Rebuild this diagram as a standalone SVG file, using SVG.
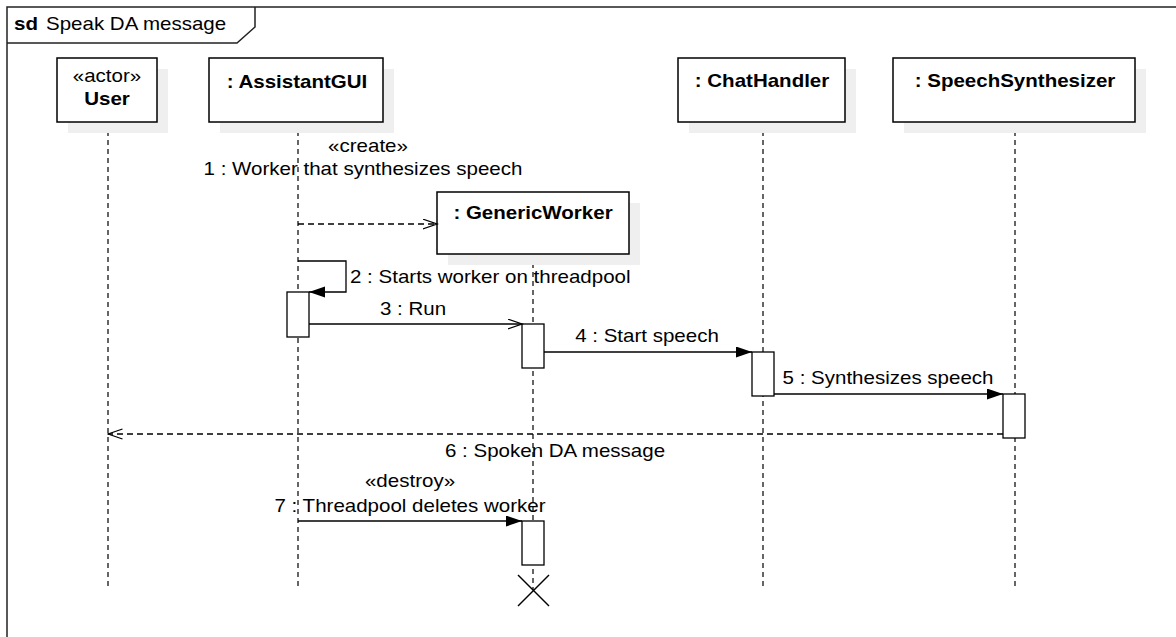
<svg xmlns="http://www.w3.org/2000/svg" width="1176" height="637" viewBox="0 0 1176 637">
<style>
text{font-family:"Liberation Sans",Arial,sans-serif;font-size:18px;fill:#000}
.b{font-weight:bold}
.box{fill:#fff;stroke:#000;stroke-width:1.5}
.sh{fill:#efefef;stroke:none}
.life{stroke:#000;stroke-width:1.2;stroke-dasharray:5,4;fill:none}
.act{fill:#fff;stroke:#000;stroke-width:1.3}
.msg{stroke:#000;stroke-width:1.3;fill:none}
.dash{stroke-dasharray:6,4}
</style>
<defs>
<marker id="fill" markerUnits="userSpaceOnUse" markerWidth="17" markerHeight="12" refX="16" refY="5.5" orient="auto"><path d="M0,0 L16,5.5 L0,11 z" fill="#000"/></marker>
<marker id="open" markerUnits="userSpaceOnUse" markerWidth="16" markerHeight="12" refX="14.5" refY="5.5" orient="auto"><path d="M0,0.5 L14.5,5.5 L0,10.5" fill="none" stroke="#000" stroke-width="1.3"/></marker>
</defs>
<rect x="0" y="0" width="1176" height="637" fill="#fff"/>
<g id="frame">
<rect x="7" y="7" width="1190" height="650" fill="none" stroke="#222" stroke-width="1.5"/>
<path d="M7,43 L237,43 L255,27 L255,7" fill="none" stroke="#222" stroke-width="1.5"/>
<text class="b" transform="translate(14,30) scale(1.14,1)">sd</text>
<text transform="translate(46,30) scale(1.14,1)">Speak DA message</text>
</g>
<g id="lifelines">
<line class="life" x1="108" y1="122" x2="108" y2="590"/>
<line class="life" x1="298" y1="122" x2="298" y2="590"/>
<line class="life" x1="533" y1="254" x2="533" y2="590"/>
<line class="life" x1="763" y1="122" x2="763" y2="590"/>
<line class="life" x1="1015" y1="122" x2="1015" y2="590"/>
</g>
<g id="user">
<rect class="sh" x="68" y="69" width="100" height="64"/>
<rect class="box" x="57" y="58" width="100" height="64"/>
<text transform="translate(107,82) scale(1.14,1)" text-anchor="middle">«actor»</text>
<text class="b" transform="translate(107,105) scale(1.14,1)" text-anchor="middle">User</text>
</g>
<g id="assistantgui">
<rect class="sh" x="220" y="69" width="174" height="64"/>
<rect class="box" x="209" y="58" width="174" height="64"/>
<text class="b" transform="translate(297,88) scale(1.14,1)" text-anchor="middle">: AssistantGUI</text>
</g>
<g id="chathandler">
<rect class="sh" x="689" y="69" width="167" height="64"/>
<rect class="box" x="678" y="58" width="167" height="64"/>
<text class="b" transform="translate(762,87) scale(1.14,1)" text-anchor="middle">: ChatHandler</text>
</g>
<g id="speechsynthesizer">
<rect class="sh" x="904" y="69" width="242" height="64"/>
<rect class="box" x="893" y="58" width="242" height="64"/>
<text class="b" transform="translate(1015,87) scale(1.14,1)" text-anchor="middle">: SpeechSynthesizer</text>
</g>
<g id="genericworker">
<rect class="sh" x="448" y="203" width="192" height="62"/>
<rect class="box" x="437" y="192" width="192" height="62"/>
<text class="b" transform="translate(533,219) scale(1.14,1)" text-anchor="middle">: GenericWorker</text>
</g>
<g id="activations">
<rect class="act" x="287" y="292" width="22" height="45"/>
<rect class="act" x="522" y="324" width="22" height="44"/>
<rect class="act" x="752" y="352" width="22" height="44"/>
<rect class="act" x="1003" y="394" width="22" height="44"/>
<rect class="act" x="522" y="521" width="22" height="44"/>
</g>
<g id="destroy-mark">
<line x1="518" y1="575" x2="549" y2="606" stroke="#000" stroke-width="1.4"/>
<line x1="549" y1="575" x2="518" y2="606" stroke="#000" stroke-width="1.4"/>
</g>
<g id="connectors">
<line class="msg dash" x1="298" y1="224" x2="437" y2="224" marker-end="url(#open)"/>
<path class="msg" d="M298,261 L346,261 L346,292 L309,292" marker-end="url(#fill)"/>
<line class="msg" x1="309" y1="324" x2="522" y2="324" marker-end="url(#open)"/>
<line class="msg" x1="544" y1="352" x2="752" y2="352" marker-end="url(#fill)"/>
<line class="msg" x1="774" y1="394" x2="1003" y2="394" marker-end="url(#fill)"/>
<line class="msg dash" x1="1003" y1="434" x2="108" y2="434" marker-end="url(#open)"/>
<line class="msg" x1="298" y1="521" x2="522" y2="521" marker-end="url(#fill)"/>
</g>
<g id="labels">
<text transform="translate(368,152) scale(1.14,1)" text-anchor="middle">«create»</text>
<text transform="translate(363,175) scale(1.14,1)" text-anchor="middle">1 : Worker that synthesizes speech</text>
<text transform="translate(350,283) scale(1.14,1)">2 : Starts worker on threadpool</text>
<text transform="translate(413,315) scale(1.14,1)" text-anchor="middle">3 : Run</text>
<text transform="translate(647,342) scale(1.14,1)" text-anchor="middle">4 : Start speech</text>
<text transform="translate(888,384) scale(1.14,1)" text-anchor="middle">5 : Synthesizes speech</text>
<text transform="translate(555,457) scale(1.14,1)" text-anchor="middle">6 : Spoken DA message</text>
<text transform="translate(410,487) scale(1.14,1)" text-anchor="middle">«destroy»</text>
<text transform="translate(410,512) scale(1.14,1)" text-anchor="middle">7 : Threadpool deletes worker</text>
</g>
</svg>
